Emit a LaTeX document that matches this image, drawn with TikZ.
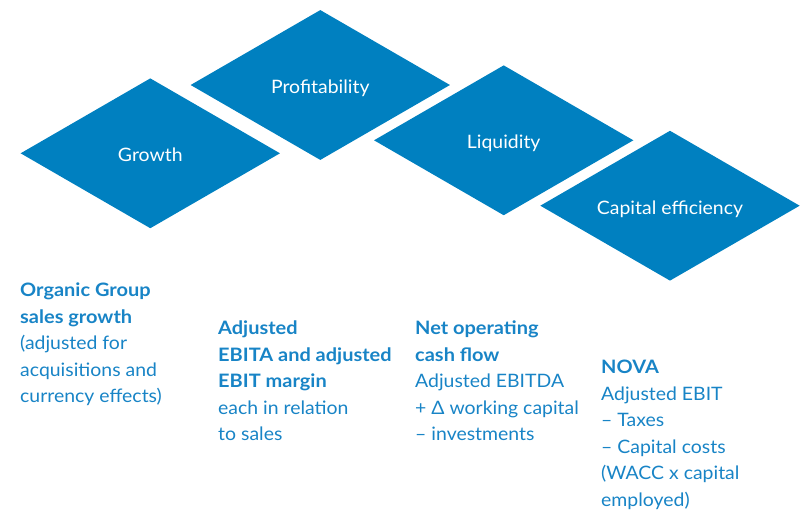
\documentclass[tikz,border=0pt]{standalone}
\usepackage{fontspec}
\setmainfont{Lato}[FakeStretch=1.05,BoldFeatures={FakeStretch=1.08}]
\usetikzlibrary{shapes.geometric}
\definecolor{blu}{RGB}{0,128,192}
\definecolor{txt}{RGB}{24,132,198}
\newcommand{\lowlbl}[2]{\raisebox{-#1}[\height][\depth]{#2}}
\begin{document}
\begin{tikzpicture}[x=1pt,y=-1pt,
 dia/.style={diamond, fill=blu, draw=none, inner sep=0pt, minimum width=259.5pt, minimum height=150pt, aspect=1.73, text=white, font=\fontsize{18.5}{20}\selectfont},
 info/.style={anchor=north west, inner sep=0pt, align=left, text=txt, font=\fontsize{18.5}{26.5}\selectfont}]
\useasboundingbox (0,0) rectangle (801,509);
\node[dia] (growth) at (150.3,153.3) {\lowlbl{1pt}{Growth}};
\node[dia] (profit) at (320.3,85) {\lowlbl{3pt}{Profitability}};
\node[dia] (liquid) at (503.7,140.3) {\lowlbl{3pt}{Liquidity}};
\node[dia] (capeff) at (670,205.7) {\lowlbl{3.5pt}{Capital efficiency}};
\node[info] (t1) at (20,283) {\textbf{Organic Group}\\\textbf{sales growth}\\(adjusted for\\acquisitions and\\currency effects)};
\node[info] (t2) at (218,321) {\textbf{Adjusted}\\\textbf{EBITA and adjusted}\\\textbf{EBIT margin}\\each in relation\\to sales};
\node[info] (t3) at (415,321) {\textbf{Net operating}\\\textbf{cash flow}\\Adjusted EBITDA\\+ Δ working capital\\– investments};
\node[info] (t4) at (601,360) {\textbf{NOVA}\\Adjusted EBIT\\– Taxes\\– Capital costs\\(WACC x capital\\employed)};
\end{tikzpicture}
\end{document}
